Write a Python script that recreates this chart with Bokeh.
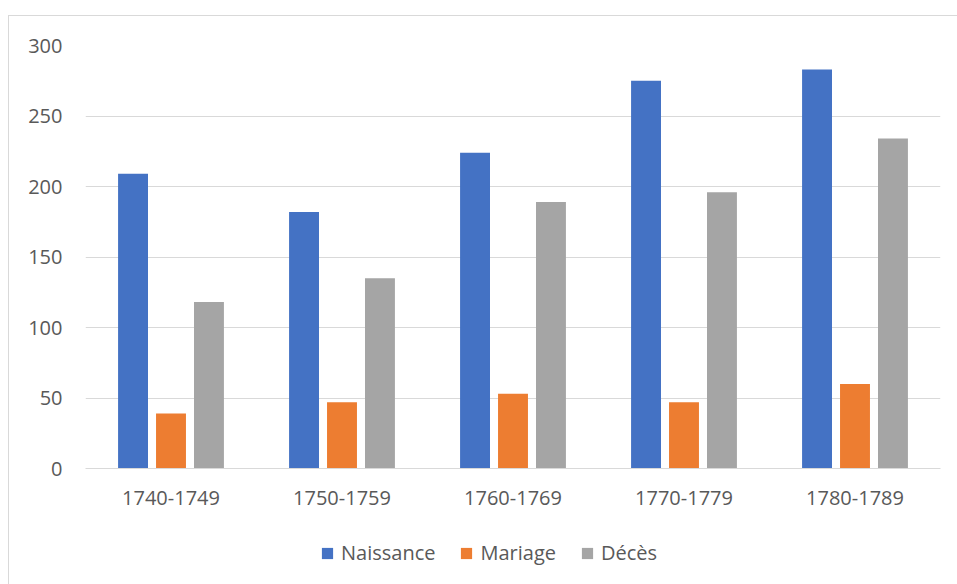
from bokeh.plotting import figure
from bokeh.layouts import column
from bokeh.models import FactorRange, ColumnDataSource, Legend, LegendItem, Range1d
from bokeh.transform import dodge
from bokeh.embed import file_html
from bokeh.resources import INLINE

periods = ["1740-1749", "1750-1759", "1760-1769", "1770-1779", "1780-1789"]
naissance = [209, 182, 224, 275, 283]
mariage = [39, 47, 53, 47, 60]
deces = [118, 135, 189, 196, 234]
y_ticks = [0, 50, 100, 150, 200, 250, 300]
series_names = ["Naissance", "Mariage", "Décès"]
series_colors = ["#4472C4", "#ED7D31", "#A5A5A5"]

src = ColumnDataSource(dict(period=periods, naissance=naissance, mariage=mariage, deces=deces))

FONT = "Open Sans"
TXT = "#595959"
GRID = "#d9d9d9"

p = figure(x_range=FactorRange(*periods), y_range=(0, 300),
           width=948, height=512,
           min_border_left=76, min_border_top=29, min_border_right=17, min_border_bottom=60,
           output_backend="svg", toolbar_location=None)
p.outline_line_color = None
p.background_fill_color = "white"
p.border_fill_color = "white"

offsets = [-0.222, 0.0, 0.222]
for col, off, color in zip(["naissance", "mariage", "deces"], offsets, series_colors):
    p.vbar(x=dodge("period", off, range=p.x_range), top=col, width=0.175,
           source=src, fill_color=color, line_color=None)

p.xgrid.grid_line_color = None
p.ygrid.grid_line_color = GRID
p.ygrid.grid_line_width = 1
p.yaxis.ticker = y_ticks

p.yaxis.axis_line_color = None
p.yaxis.major_tick_line_color = None
p.yaxis.minor_tick_line_color = None
p.yaxis.major_label_standoff = 17
p.yaxis.major_label_text_font = FONT
p.yaxis.major_label_text_font_size = "20px"
p.yaxis.major_label_text_color = TXT

p.xaxis.axis_line_color = GRID
p.xaxis.major_tick_line_color = None
p.xaxis.minor_tick_line_color = None
p.xaxis.major_label_standoff = 16
p.xaxis.major_label_text_font = FONT
p.xaxis.major_label_text_font_size = "20px"
p.xaxis.major_label_text_color = TXT

# legend strip: proxy renderers kept outside the visible range, only their legend swatches show
lg = figure(width=948, height=70, x_range=Range1d(0, 1), y_range=Range1d(0, 1),
            min_border=0, x_axis_location=None, y_axis_location=None,
            output_backend="svg", toolbar_location=None)
lg.outline_line_color = None
lg.grid.grid_line_color = None
lg.border_fill_color = "white"
items = []
for name, color in zip(series_names, series_colors):
    r = lg.vbar(x=[-10], top=[-10], bottom=[-11], width=0.1, fill_color=color, line_color=None)
    items.append(LegendItem(label=name, renderers=[r]))

legend = Legend(items=items, orientation="horizontal", location=(235, 32),
                label_text_font=FONT, label_text_font_size="20px", label_text_color=TXT,
                glyph_width=14, glyph_height=14, spacing=24, label_standoff=7,
                border_line_color=None, background_fill_alpha=0, margin=0, padding=6)
lg.add_layout(legend, "center")

layout = column(p, lg, spacing=0,
                styles={"border": "1px solid #d9d9d9", "margin-left": "8px", "margin-top": "15px"})

open("out.html", "w").write(file_html(layout, INLINE))
